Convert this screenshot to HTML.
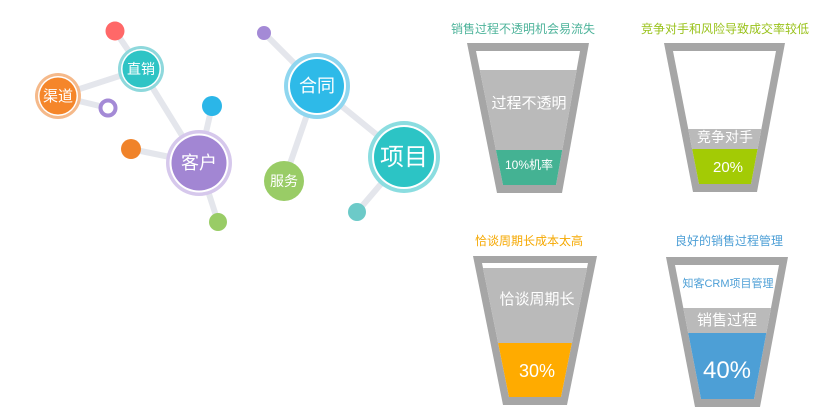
<!DOCTYPE html>
<html><head><meta charset="utf-8"><style>
html,body{margin:0;padding:0;background:#fff;width:840px;height:420px;overflow:hidden}
svg{display:block}
text{font-family:"Liberation Sans","Noto Sans CJK SC",sans-serif}
</style></head><body>
<svg width="840" height="420" viewBox="0 0 840 420" xmlns="http://www.w3.org/2000/svg">
<defs>
<clipPath id="c1"><polygon points="476,51 580,51 556,185 503,185"/></clipPath>
<clipPath id="c2"><polygon points="673,51 776,51 751,184 699,184"/></clipPath>
<clipPath id="c3"><polygon points="482,263 588,263 561,397 509,397"/></clipPath>
<clipPath id="c4"><polygon points="675,265 779,265 754,399 701,399"/></clipPath>
</defs>
<g stroke="#e4e6ec" stroke-width="6" stroke-linecap="round">
<line x1="115" y1="31" x2="141" y2="69"/>
<line x1="141" y1="69" x2="58" y2="96"/>
<line x1="58" y1="96" x2="108" y2="108"/>
<line x1="141" y1="69" x2="199" y2="163"/>
<line x1="199" y1="163" x2="212" y2="106"/>
<line x1="199" y1="163" x2="131" y2="149"/>
<line x1="199" y1="163" x2="218" y2="222"/>
<line x1="264" y1="33" x2="317" y2="86"/>
<line x1="317" y1="86" x2="284" y2="181"/>
<line x1="317" y1="86" x2="404" y2="157"/>
<line x1="404" y1="157" x2="357" y2="212"/>
</g>
<circle cx="115" cy="31" r="9.5" fill="#ff6868"/>
<circle cx="141" cy="69" r="23" fill="#8ed8dc"/><circle cx="141" cy="69" r="20" fill="#fff"/><circle cx="141" cy="69" r="18.5" fill="#2ec4c5"/>
<circle cx="58" cy="96" r="23" fill="#f5b98a"/><circle cx="58" cy="96" r="20" fill="#fff"/><circle cx="58" cy="96" r="18.5" fill="#f5862a"/>
<circle cx="108" cy="108" r="7.5" fill="#fff" stroke="#a48ad6" stroke-width="4"/>
<circle cx="212" cy="106" r="10" fill="#2bb6e8"/>
<circle cx="131" cy="149" r="10" fill="#f0832a"/>
<circle cx="199" cy="163" r="33" fill="#d6c8ec"/><circle cx="199" cy="163" r="29.5" fill="#fff"/><circle cx="199" cy="163" r="27.5" fill="#a286d3"/>
<circle cx="218" cy="222" r="9" fill="#99cc66"/>
<circle cx="264" cy="33" r="7" fill="#a48ad6"/>
<circle cx="317" cy="86" r="33" fill="#8fd6ef"/><circle cx="317" cy="86" r="29" fill="#fff"/><circle cx="317" cy="86" r="27" fill="#2ebae8"/>
<circle cx="284" cy="181" r="20" fill="#99cc66"/>
<circle cx="404" cy="157" r="36" fill="#8bdde0"/><circle cx="404" cy="157" r="32" fill="#fff"/><circle cx="404" cy="157" r="30" fill="#2cc4c5"/>
<circle cx="357" cy="212" r="9" fill="#6ccac8"/>
<g fill="#fff" text-anchor="middle">
<text x="141" y="74" font-size="14">直销</text>
<text x="58" y="101" font-size="15">渠道</text>
<text x="199" y="169" font-size="18">客户</text>
<text x="317" y="92" font-size="18">合同</text>
<text x="284" y="186" font-size="14">服务</text>
<text x="404" y="165" font-size="24">项目</text>
</g>
<!-- funnels -->
<polygon points="467,43 589,43 562,193 497,193" fill="#a6a6a6"/>
<polygon points="476,51 580,51 556,185 503,185" fill="#fff"/>
<g clip-path="url(#c1)"><rect x="460" y="70" width="140" height="80" fill="#bababa"/><rect x="460" y="150" width="140" height="40" fill="#44b293"/></g>
<polygon points="664,43 785,43 757,192 693,192" fill="#a6a6a6"/>
<polygon points="673,51 776,51 751,184 699,184" fill="#fff"/>
<g clip-path="url(#c2)"><rect x="660" y="129" width="140" height="20" fill="#bababa"/><rect x="660" y="149" width="140" height="40" fill="#a3cb05"/></g>
<polygon points="473,256 597,256 567,405 503,405" fill="#a6a6a6"/>
<polygon points="482,263 588,263 561,397 509,397" fill="#fff"/>
<g clip-path="url(#c3)"><rect x="470" y="268" width="140" height="75" fill="#bababa"/><rect x="470" y="343" width="140" height="60" fill="#ffab00"/></g>
<polygon points="666,257 788,257 760,407 695,407" fill="#a6a6a6"/>
<polygon points="675,265 779,265 754,399 701,399" fill="#fff"/>
<g clip-path="url(#c4)"><rect x="660" y="308" width="140" height="25" fill="#bababa"/><rect x="660" y="333" width="140" height="70" fill="#4d9fd6"/></g>
<g text-anchor="middle" font-size="12">
<text x="523" y="33" fill="#4db39a">销售过程不透明机会易流失</text>
<text x="725" y="33" fill="#99c21a">竞争对手和风险导致成交率较低</text>
<text x="529" y="245" fill="#f5a800">恰谈周期长成本太高</text>
<text x="729" y="245" fill="#4d9fd6">良好的销售过程管理</text>
<text x="728" y="287" fill="#4d9fd6" font-size="11">知客CRM项目管理</text>
</g>
<g fill="#fff" text-anchor="middle">
<text x="529" y="108" font-size="15">过程不透明</text>
<text x="529" y="169" font-size="12">10%机率</text>
<text x="725" y="142" font-size="14">竞争对手</text>
<text x="728" y="172" font-size="15">20%</text>
<text x="537" y="304" font-size="15">恰谈周期长</text>
<text x="537" y="377" font-size="18">30%</text>
<text x="727" y="325" font-size="15">销售过程</text>
<text x="727" y="378" font-size="24">40%</text>
</g>
</svg>
</body></html>
